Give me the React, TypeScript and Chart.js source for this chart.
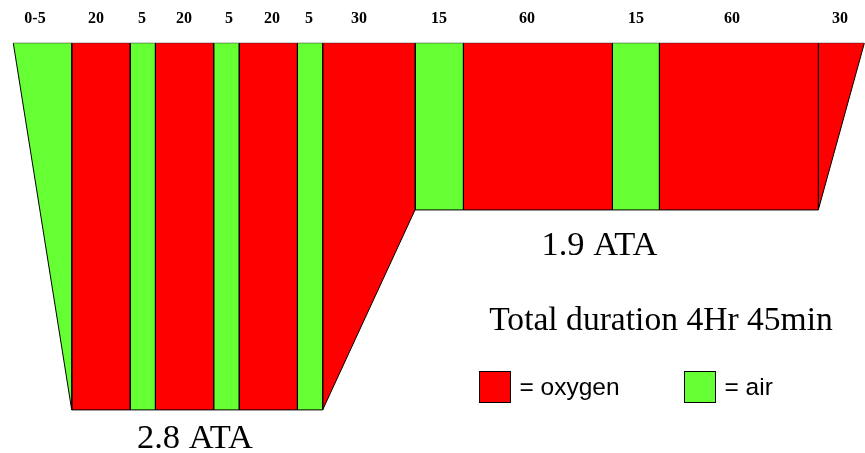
import React, { useEffect, useRef } from 'react';
import { Chart, registerables } from 'chart.js';

Chart.register(...registerables);

// Pressure (ATA) at which the chamber "surface" line is drawn in the picture
const SURFACE_ATA = 1.15;
const DEEP_ATA = 2.8;
const SHALLOW_ATA = 1.9;

// Segment labels (minutes) shown above each block
const SEGMENT_LABELS = ['0-5', '20', '5', '20', '5', '20', '5', '30', '15', '60', '15', '60', '30'];
// Breathing gas of each block
const SEGMENT_GAS = ['air', 'oxygen', 'air', 'oxygen', 'air', 'oxygen', 'air', 'oxygen', 'air', 'oxygen', 'air', 'oxygen', 'oxygen'];
// Block boundaries along the timeline (percent of width)
const BOUNDARY_X = [1.54, 8.29, 15.03, 17.95, 24.7, 27.63, 34.37, 37.3, 47.98, 53.56, 70.79, 76.22, 94.6, 99.92];
// Pressure profile at each boundary (ATA)
const BOUNDARY_ATA = [SURFACE_ATA, DEEP_ATA, DEEP_ATA, DEEP_ATA, DEEP_ATA, DEEP_ATA, DEEP_ATA, DEEP_ATA, SHALLOW_ATA, SHALLOW_ATA, SHALLOW_ATA, SHALLOW_ATA, SHALLOW_ATA, SURFACE_ATA];
// Horizontal position of each duration label
const LABEL_X = [4.05, 11.1, 16.42, 21.27, 26.47, 31.45, 35.72, 41.5, 50.75, 60.92, 73.53, 84.62, 97.11];

const GAS_COLORS: Record<string, string> = { oxygen: '#ff0000', air: '#66ff33' };

const textPlugin = {
  id: 'tableText',
  afterDraw(chart: any) {
    const ctx = chart.ctx as CanvasRenderingContext2D;
    const xs = chart.scales.x;
    const ys = chart.scales.y;
    ctx.save();
    ctx.fillStyle = '#000';
    // duration labels
    ctx.font = 'bold 16px "Liberation Serif", "Times New Roman", serif';
    ctx.textAlign = 'center';
    ctx.textBaseline = 'alphabetic';
    const topY = ys.getPixelForValue(SURFACE_ATA);
    SEGMENT_LABELS.forEach((lab, i) => {
      ctx.fillText(lab, xs.getPixelForValue(LABEL_X[i]), topY - 20);
    });
    // pressure annotations
    ctx.font = '34.5px "Liberation Serif", "Times New Roman", serif';
    ctx.fillText('1.9 ATA', 599.5, 255);
    ctx.fillText('2.8 ATA', 195, 448);
    ctx.font = '33.6px "Liberation Serif", "Times New Roman", serif';
    ctx.fillText('Total duration 4Hr 45min', 661, 330);
    // legend
    const drawKey = (x: number, color: string, label: string) => {
      ctx.fillStyle = color;
      ctx.fillRect(x, 371.5, 31, 31);
      ctx.strokeStyle = '#000';
      ctx.lineWidth = 1;
      ctx.strokeRect(x, 371.5, 31, 31);
      ctx.fillStyle = '#000';
      ctx.textAlign = 'left';
      ctx.font = '24.5px "Liberation Sans", Arial, sans-serif';
      ctx.fillText(label, x + 40, 395);
    };
    drawKey(479.5, GAS_COLORS.oxygen, '= oxygen');
    drawKey(684.5, GAS_COLORS.air, '= air');
    ctx.restore();
  },
};

export default function App() {
  const ref = useRef<HTMLCanvasElement | null>(null);

  useEffect(() => {
    if (!ref.current) return;
    const datasets: any[] = SEGMENT_GAS.map((gas, i) => {
      const x0 = BOUNDARY_X[i];
      const x1 = BOUNDARY_X[i + 1];
      return {
        label: SEGMENT_LABELS[i],
        data: [
          { x: x0, y: SURFACE_ATA },
          { x: x0, y: BOUNDARY_ATA[i] },
          { x: x1, y: BOUNDARY_ATA[i + 1] },
          { x: x1, y: SURFACE_ATA },
        ],
        backgroundColor: GAS_COLORS[gas],
        borderColor: '#000',
        borderWidth: 1,
        pointRadius: 0,
        tension: 0,
        fill: { value: SURFACE_ATA },
      };
    });
    datasets.push({
      label: 'surface',
      data: [
        { x: BOUNDARY_X[0], y: SURFACE_ATA },
        { x: BOUNDARY_X[BOUNDARY_X.length - 1], y: SURFACE_ATA },
      ],
      borderColor: '#000',
      borderWidth: 1,
      pointRadius: 0,
      fill: false,
    });

    const chart = new Chart(ref.current, {
      type: 'line',
      data: { datasets },
      options: {
        animation: false,
        responsive: false,
        maintainAspectRatio: false,
        devicePixelRatio: 1,
        layout: { padding: 0 },
        scales: {
          x: { type: 'linear', min: 0, max: 100, display: false },
          y: { type: 'linear', min: 0.955, max: 2.994, reverse: true, display: false },
        },
        plugins: {
          legend: { display: false },
          tooltip: { enabled: false },
        },
      },
      plugins: [textPlugin],
    } as any);
    return () => chart.destroy();
  }, []);

  return (
    <div style={{ position: 'fixed', left: 0, top: 0, width: 865, height: 453, background: '#fff' }}>
      <canvas ref={ref} width={865} height={453} />
    </div>
  );
}
